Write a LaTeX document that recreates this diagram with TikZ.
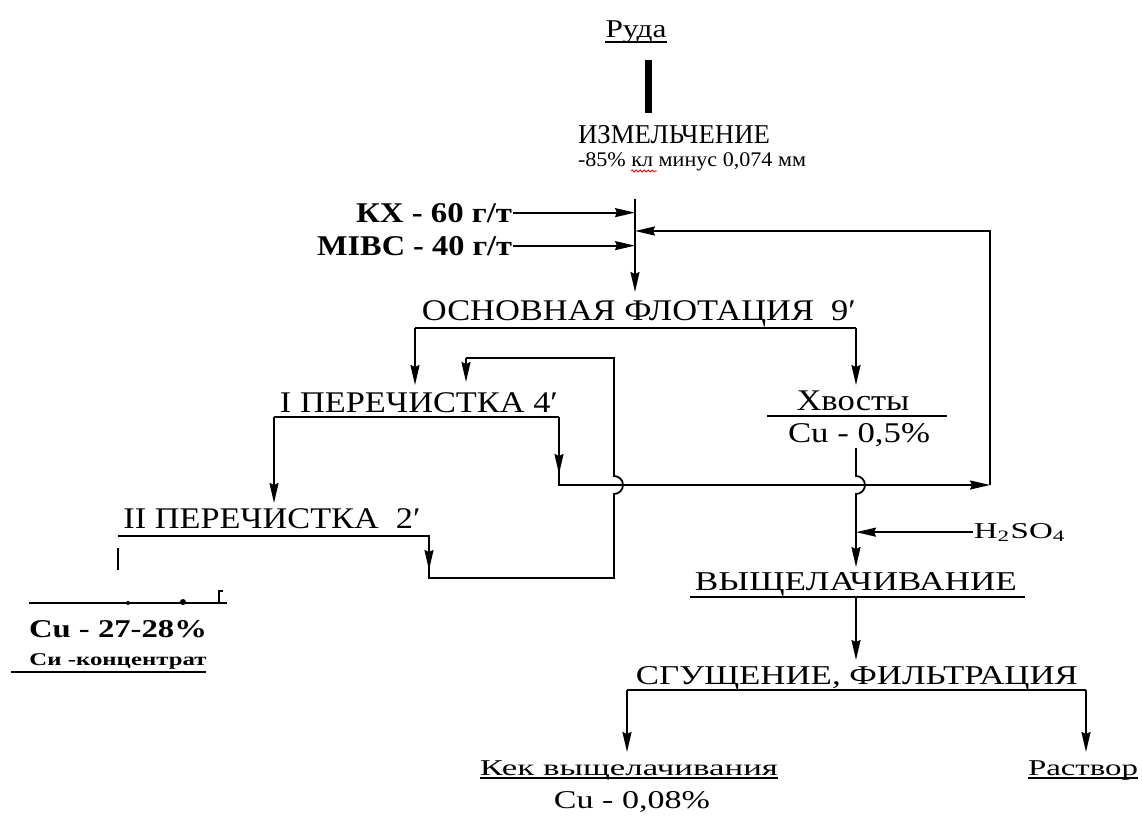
\documentclass[tikz,border=0pt]{standalone}
\usepackage{fontspec}
\setmainfont{Liberation Serif}
\usepackage{graphicx}
\usetikzlibrary{arrows.meta,decorations.pathmorphing}
\newcommand{\fitw}[2]{\resizebox{#1}{\height}{#2}}
\tikzset{
	lbl/.style={inner sep=0pt,anchor=base,font=\fontsize{#1}{#1}\selectfont},
	blbl/.style={inner sep=0pt,anchor=base,font=\fontsize{#1}{#1}\selectfont\bfseries},
	flow/.style={-{Stealth[length=10pt,width=4.5pt,inset=1pt]}}
}

\begin{document}
\begin{tikzpicture}[x=0.5pt,y=-0.5pt,line width=0.9pt]
	\useasboundingbox (0,0) rectangle (1142,815);

	\node [lbl=12.8] (ruda) at (636,37) {\fitw{30.5pt}{Руда}};
	\node [lbl=13.6] (izm) at (674,143) {\fitw{96pt}{ИЗМЕЛЬЧЕНИЕ}};
	\node [lbl=10.4] (klass) at (692,166) {\fitw{114pt}{-85\% кл минус 0,074 мм}};
	\node [blbl=14.3,anchor=base east] (kx) at (513,222) {\fitw{78pt}{КХ - 60 г/т}};
	\node [blbl=14.3,anchor=base east] (mibc) at (513,255) {\fitw{97.5pt}{MIBC - 40 г/т}};
	\node [lbl=15] (osn) at (639,320) {\fitw{217pt}{ОСНОВНАЯ ФЛОТАЦИЯ\ \ 9′}};
	\node [lbl=15] (per1) at (419,412) {\fitw{139pt}{I ПЕРЕЧИСТКА 4′}};
	\node [lbl=15] (per2) at (272,528) {\fitw{148.5pt}{II ПЕРЕЧИСТКА\ \ 2′}};
	\node [lbl=15] (hv) at (853,410) {\fitw{56.5pt}{Хвосты}};
	\node [lbl=14.3] (hvcu) at (859,442) {\fitw{71pt}{Cu - 0,5\%}};
	\node [blbl=12.8] (kcu) at (118,637) {\fitw{89pt}{Cu - 27-28\%}};
	\node [blbl=9] (konc) at (118,665) {\fitw{88.5pt}{Си -концентрат}};
	\node [lbl=11.3,anchor=base west] (acid) at (973,538) {\fitw{46pt}{H\textsubscript{2}SO\textsubscript{4}}};
	\node [lbl=13.6] (vysh) at (856,590) {\fitw{161pt}{ВЫЩЕЛАЧИВАНИЕ}};
	\node [lbl=13.6] (sgu) at (857,684) {\fitw{221pt}{СГУЩЕНИЕ, ФИЛЬТРАЦИЯ}};
	\node [lbl=11.3] (kek) at (629,775) {\fitw{149pt}{Кек выщелачивания}};
	\node [lbl=11.3] (rastv) at (1083,775) {\fitw{55pt}{Раствор}};
	\node [lbl=12.8] (kekcu) at (632,808) {\fitw{78pt}{Cu - 0,08\%}};

	\coordinate (top) at (635,199);
	\coordinate (feed) at (635,292);
	\coordinate (rtop) at (990,231);
	\coordinate (rbot) at (990,485);
	\coordinate (osnL) at (415,328);
	\coordinate (osnR) at (856,328);
	\coordinate (p1L) at (274,417);
	\coordinate (p1R) at (559,417);
	\coordinate (p2L) at (118,536);
	\coordinate (p2R) at (429,536);
	\coordinate (ret) at (614,358);
	\coordinate (vyL) at (690,597);
	\coordinate (vyR) at (1025,597);
	\coordinate (sgL) at (627,690);
	\coordinate (sgR) at (1086,690);

	\draw ([yshift=-2.5pt]ruda.base west) -- ([yshift=-2.5pt]ruda.base east);
	\draw [line width=3.5pt] (648,60) -- (648,113);
	\draw [red,line width=0.4pt,decorate,decoration={snake,amplitude=0.5pt,segment length=2pt}] (631,171) -- (657,171);

	\draw [flow] (top) -- (feed);
	\draw [flow] (kx.east) -- (kx.east -| top);
	\draw [flow] (mibc.east) -- (mibc.east -| top);
	\draw [flow] (rbot) -- (rtop) -- (rtop -| top);

	\draw (osnL) -- (osnR);
	\draw [flow] (osnL) -- (415,385);
	\draw [flow] (osnR) -- (856,385);

	\draw (p1L) -- (p1R);
	\draw [flow] (p1L) -- (274,503);
	\draw [flow] (p1R) -- (p1R |- rbot) -- (rbot);
	\draw [flow] (p1R) -- (559,474);

	\draw (p2L) -- (p2R) -- (429,578) -- (614,578) -- (614,494) arc[start angle=-90,end angle=90,radius=4.5pt] -- (ret) -- (466,358);
	\draw [flow] (466,358) -- (466,382);
	\draw [flow] (p2R) -- (429,570);

	\draw (767,416) -- (947,416);
	\draw [flow] (856,448) -- (856,476) arc[start angle=90,end angle=-90,radius=4.5pt] -- (856,567);
	\draw [flow] (acid.west) -- (acid.west -| osnR);

	\draw (vyL) -- (vyR);
	\draw [flow] (856,597) -- (856,660);
	\draw [line width=1.3pt] (sgL) -- (sgR);
	\draw [flow] (sgL) -- (627,752);
	\draw [flow] (sgR) -- (1086,752);
	\draw (480,778) -- (778,778);
	\draw (1028,778) -- (1138,778);

	\draw (118,548) -- (118,570);
	\draw (29,603) -- (227,603);
	\fill (128,603) circle (1pt);
	\fill (183,602) circle (1.5pt);
	\draw [line width=0.6pt] (219,602) -- (219,591) -- (223,591);
	\draw (11,672) -- (206,672);
\end{tikzpicture}
\end{document}
